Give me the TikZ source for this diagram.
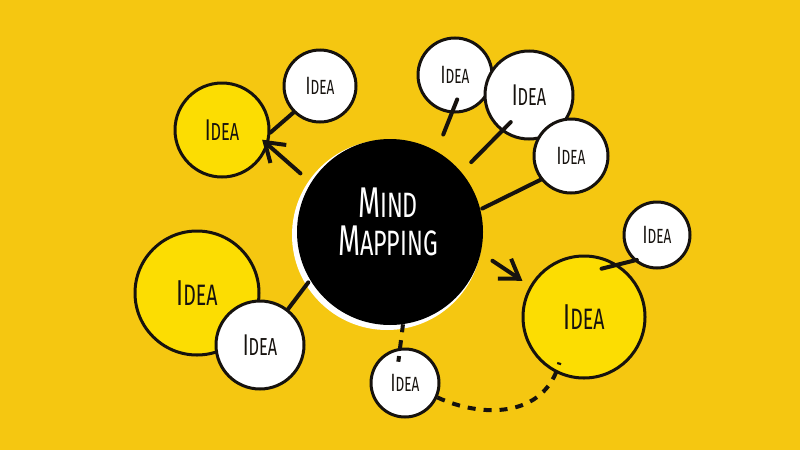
\documentclass[tikz,border=0pt]{standalone}
\usepackage{fontspec}
\newfontfamily\handfont[FakeStretch=0.66]{Fira Sans}
\usetikzlibrary{arrows.meta,positioning}
\definecolor{bgyellow}{RGB}{245,199,17}
\definecolor{bubbleyellow}{RGB}{252,221,2}
\definecolor{inkcolor}{RGB}{22,18,14}
\newcommand\firstbig[2]{#1\scalebox{0.82}{#2}}
\tikzstyle{bubble}=[circle,draw=inkcolor,line width=3pt,inner sep=0pt,text=inkcolor]
\tikzstyle{white bubble}=[bubble,fill=white]
\tikzstyle{yellow bubble}=[bubble,fill=bubbleyellow]
\tikzstyle{mapedge}=[draw=inkcolor,line width=4pt,line cap=round]
\tikzstyle{maparrow}=[mapedge,-{Straight Barb[length=18pt,width=24pt]}]
\tikzstyle{mapdash}=[mapedge,line cap=butt,dash pattern=on 8pt off 8pt]

\begin{document}
\begin{tikzpicture}[x=1pt,y=-1pt]
\def\ideasmall{\handfont\fontsize{25}{27}\selectfont}
\def\ideamid{\handfont\fontsize{30}{32}\selectfont}
\def\idealarge{\handfont\fontsize{36}{38}\selectfont}

    \fill[bgyellow] (0,0) rectangle (800,450);
    \useasboundingbox (0,0) rectangle (800,450);

    % central topic
    \fill[white] (387,235) circle (95);
    \path node[circle,fill=black,minimum size=186pt,inner sep=0pt] (mind) at (390,232) {};
    \path node[font=\handfont\fontsize{43}{38}\selectfont,text=white,align=center]
        (mindlabel) at (388,222) {\firstbig{M}{IND}\\\firstbig{M}{APPING}};

    % yellow ideas
    \path node[yellow bubble, minimum size=94pt, font=\ideamid] (y1) at (222,130) {\firstbig{I}{DEA}};
    \path node[yellow bubble, minimum size=122pt, font=\idealarge] (y2) at (584,317) {\firstbig{I}{DEA}};
    \path node[yellow bubble, minimum size=124pt, font=\idealarge] (y3) at (197,293) {\firstbig{I}{DEA}};

    % white ideas
    \foreach \name/\x/\y/\size in {w1/320/86/72, w2/455/75/74}
        \path node[white bubble, minimum size=\size pt, font=\ideasmall] (\name) at (\x,\y) {\firstbig{I}{DEA}};
    \path node[white bubble, minimum size=88pt, font=\ideamid] (w3) at (529,95) {\firstbig{I}{DEA}};
    \foreach \name/\x/\y/\size in {w4/571/156/74, w5/657/235/66, w7/405/383/68}
        \path node[white bubble, minimum size=\size pt, font=\ideasmall] (\name) at (\x,\y) {\firstbig{I}{DEA}};
    \path node[white bubble, minimum size=88pt, font=\ideamid] (w6) at (260,345) {\firstbig{I}{DEA}};

    % links
    \draw[mapedge] (w1.225) -- (y1.-3);
    \draw[maparrow, shorten <=14pt, shorten >=-8pt] (mind.148) -- (y1.-18);
    \draw[mapedge, shorten <=18pt, shorten >=-15pt] (mind.60) -- (w2.-95);
    \draw[mapedge, shorten <=14pt, shorten >=-13pt] (mind.40) -- (w3.-127);
    \draw[mapedge, shorten <=2pt] (mind.14) -- (w4.-142);
    \draw[maparrow, shorten <=14pt, shorten >=9pt] (mind.-13) -- (y2.150);
    \draw[mapedge, shorten <=-17pt, shorten >=-3pt] (y2.57) -- (w5.-132);
    \draw[mapedge, shorten <=3pt] (mind.211) -- (w6.52);
    \draw[mapdash, shorten >=-14pt] (mind.-82) -- (w7.98);
    \draw[mapdash, shorten >=-11pt] (w7.-24) to[out=-25,in=-105] (y2.-116);
\end{tikzpicture}
\end{document}
